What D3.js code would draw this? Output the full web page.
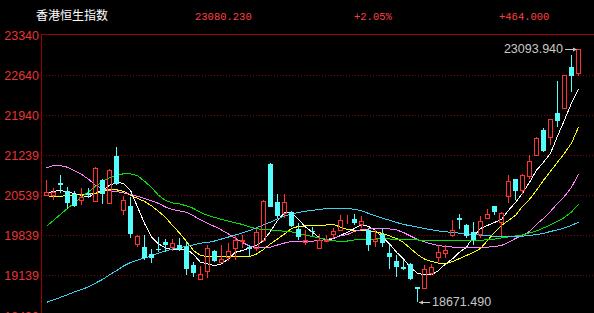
<!DOCTYPE html>
<html>
<head>
<meta charset="utf-8">
<script src="https://cdn.jsdelivr.net/npm/d3@7"></script>
<style>
  body { margin: 0; background: #000; }
  svg { display: block; }
</style>
</head>
<body>
<svg id="kline" width="594" height="313"></svg>
<script>
// daily candles, Hang Seng index
const opens = [20547,20535,20750,20605,20552,20447,20582,20430,20797,20400,
  21222,20284,20342,19689,19642,19514,19607,19717,19642,19660,
  19630,19327,19077,19222,19572,19367,19455,19619,19735,19630,
  19620,19747,21077,20417,20225,20242,19952,19717,19910,19619,
  19735,19852,19934,20080,20127,20027,19934,19735,19865,19525,
  19397,19280,19339,18930,18920,19175,19467,19525,19835,20144,
  20010,19892,19864,20144,20342,20067,20517,20827,20622,20867,
  21235,21672,21544,21975,22052,22769,22675];
const highs = [20797,20662,20897,20680,20605,20662,20657,21025,20815,21002,
  21380,20517,20505,19847,19847,19602,19805,19765,19765,19787,
  19717,19367,19310,19677,19585,19677,19700,19835,19835,19677,
  19952,20447,21095,20564,20564,20255,20050,19934,19980,19865,
  19835,19962,20185,20185,20202,20167,19952,19934,19952,19677,
  19502,19409,19350,18942,19322,19339,19677,19660,20109,20214,
  20027,20067,20167,20302,20342,20242,20897,20827,20914,21235,
  21545,21702,21859,22530,22635,22985,23093.94];
const lows = [20530,20459,20575,20302,20325,20372,20482,20421,20389,20390,
  20710,20185,19794,19630,19409,19350,19542,19542,19572,19572,
  19152,19117,19077,19094,19367,19350,19397,19409,19620,19485,
  19572,19717,20325,20144,20144,19980,19747,19660,19817,19602,
  19717,19794,19910,20027,20010,19970,19560,19642,19642,19252,
  19117,19235,19059,18671.49,18907,19152,19367,19444,19805,19952,
  19794,19660,19794,20144,20185,19817,20395,20447,20564,20827,
  21217,21292,21410,21730,22034,22337,22617];
const closes = [20592,20592,20722,20400,20342,20505,20540,21019,20564,20972,
  20739,20447,19864,19830,19444,19444,19590,19677,19707,19602,
  19252,19175,19164,19619,19385,19427,19572,19759,19760,19607,
  19892,20435,20330,20167,20417,19992,19805,19747,19887,19759,
  19747,19905,20109,20092,20050,20080,19672,19765,19700,19467,
  19292,19257,19077,18907,19252,19292,19542,19585,19934,20109,
  19817,19747,20085,20202,20242,20232,20785,20610,20897,21135,
  21527,21310,21859,21835,22635,22616,23080.23];

// moving average lines
const ma5 = [20575,20605,20622,20592,20564,20535,20505,20570,20622,20710,
  20757,20745,20622,20330,20045,19805,19689,19619,19584,19590,
  19602,19502,19367,19339,19310,19339,19427,19542,19572,19619,
  19660,19747,19905,20097,20228,20237,20115,19980,19892,19794,
  19759,19777,19835,19892,19957,20027,19992,19922,19805,19689,
  19542,19427,19275,19175,19147,19147,19222,19339,19427,19542,
  19630,19817,19957,20010,20062,20115,20272,20412,20570,20762,
  20972,21112,21270,21567,21847,22145,22390];
const ma10 = [20535,20505,20517,20535,20543,20552,20561,20570,20605,20631,
  20631,20605,20535,20482,20430,20351,20255,20150,20010,19878,
  19730,19572,19485,19467,19467,19467,19467,19467,19467,19467,
  19511,19590,19689,19773,19861,19957,19992,20001,20010,20010,
  20018,20027,19980,19940,19922,19922,19910,19896,19870,19826,
  19782,19712,19607,19502,19423,19380,19353,19336,19380,19432,
  19485,19542,19607,19747,19887,20010,20097,20185,20342,20465,
  20622,20797,20955,21112,21270,21445,21725];
const ma20 = [21019,21051,21051,21025,20963,20902,20815,20710,20648,20617,
  20599,20578,20552,20517,20482,20438,20395,20330,20290,20263,
  20237,20176,20106,20045,19992,19931,19861,19782,19712,19651,
  19619,19619,19630,19668,19703,19730,19730,19730,19735,19747,
  19765,19787,19826,19852,19905,19934,19948,19952,19952,19948,
  19931,19887,19826,19765,19721,19686,19660,19642,19633,19630,
  19630,19630,19630,19630,19642,19660,19712,19782,19835,19905,
  20027,20132,20255,20395,20517,20675,20902];
const ma30 = [19992,20097,20202,20307,20403,20508,20596,20692,20780,20841,
  20879,20911,20911,20876,20780,20675,20535,20447,20403,20386,
  20351,20307,20237,20185,20150,20115,20085,20053,20027,19983,
  19952,19940,19931,19917,19910,19896,19870,19843,19817,19794,
  19765,19742,19730,19738,19756,19765,19770,19773,19777,19773,
  19770,19765,19759,19756,19752,19747,19747,19747,19747,19747,
  19747,19747,19752,19759,19770,19791,19808,19826,19843,19878,
  19913,19966,20018,20080,20150,20246,20377];
const ma60 = [18667,18711,18755,18802,18851,18890,18939,19003,19068,19147,
  19222,19301,19362,19406,19444,19476,19528,19563,19602,19625,
  19642,19672,19700,19712,19738,19773,19808,19843,19878,19922,
  19969,20018,20067,20123,20171,20211,20237,20258,20272,20290,
  20302,20311,20312,20307,20290,20267,20220,20176,20136,20101,
  20062,20027,20004,19980,19957,19934,19913,19899,19887,19875,
  19864,19852,19840,19831,19822,19817,19817,19817,19822,19835,
  19852,19870,19905,19931,19966,20010,20067];

const tickValues = [23340, 22639.8, 21939.6, 21239.4, 20539.2, 19839, 19138.8, 18438.6];
const tickLabels = ["23340", "22640", "21940", "21239", "20539", "19839", "19139", "18439"];

const title = "香港恒生指数";
const lastPrice = "23080.230";
const pctChange = "+2.05%";
const change = "+464.000";

const UP = "#ff3232", DOWN = "#54fcfc";
const lineColors = ["#ffffff", "#ffff00", "#ff80ff", "#00e600", "#38d0f4"];

const svg = d3.select('#kline');

const x = d3.scaleBand()
  .domain(d3.range(opens.length))
  .range([42.5, 581.5]);
const y = d3.scaleLinear()
  .domain([18438.6, 23340])
  .range([315.5, 34.5]);
const cx = i => Math.round(x(i) + x.bandwidth() / 2);

svg.append('rect').attr('width', 594).attr('height', 313).style('fill', '#000');

// dotted grid
svg.selectAll('line.grid')
  .data(tickValues.slice(1))
  .enter()
  .append('line')
  .attr('class', 'grid')
  .attr('x1', 43).attr('x2', 594)
  .attr('y1', d => Math.round(y(d)) + 0.5)
  .attr('y2', d => Math.round(y(d)) + 0.5)
  .style('stroke', '#8a0000')
  .style('stroke-dasharray', '1,2');

// frame: top border + left axis
svg.append('line')
  .attr('x1', 41).attr('x2', 594)
  .attr('y1', Math.floor(y(23340)) + 0.5).attr('y2', Math.floor(y(23340)) + 0.5)
  .style('stroke', '#a00000');
svg.append('line')
  .attr('x1', 41.5).attr('x2', 41.5)
  .attr('y1', 34).attr('y2', 313)
  .style('stroke', '#a00000');

svg.selectAll('text.tick')
  .data(tickValues)
  .enter()
  .append('text')
  .attr('class', 'tick')
  .attr('x', 39)
  .attr('y', d => Math.round(y(d)) + 4.5)
  .attr('text-anchor', 'end')
  .style('font-family', 'Liberation Sans, Arial, sans-serif')
  .style('font-size', '12.5px')
  .style('fill', '#e83434')
  .text((d, i) => tickLabels[i]);

// moving averages (pixel-style lines like the trading terminal)
const mas = [ma5, ma10, ma20, ma30, ma60];
const line = d3.line()
  .x((d, i) => cx(i) + 0.5)
  .y(d => y(d));
svg.selectAll('path.ma')
  .data(mas)
  .enter()
  .append('path')
  .attr('class', 'ma')
  .attr('d', d => line(d))
  .style('fill', 'none')
  .style('stroke', (d, i) => lineColors[i])
  .style('stroke-width', 1)
  .style('shape-rendering', 'crispEdges');

// candles
const candles = d3.range(opens.length).map(i => ({
  i: i, o: opens[i], h: highs[i], l: lows[i], c: closes[i], up: closes[i] >= opens[i]
}));

const g = svg.append('g').style('shape-rendering', 'crispEdges');
candles.forEach(d => {
  const px = cx(d.i);
  const top = Math.round(y(Math.max(d.o, d.c)));
  const bot = Math.round(y(Math.min(d.o, d.c)));
  const hi = Math.round(y(d.h));
  const lo = Math.round(y(d.l));
  if (d.up) {
    // hollow red body, wick outside it
    if (hi < top) g.append('line').attr('x1', px + 0.5).attr('x2', px + 0.5)
      .attr('y1', hi).attr('y2', top).style('stroke', UP);
    if (lo > bot) g.append('line').attr('x1', px + 0.5).attr('x2', px + 0.5)
      .attr('y1', bot).attr('y2', lo).style('stroke', UP);
    g.append('rect')
      .attr('x', px - 2 + 0.5).attr('y', top + 0.5)
      .attr('width', 4).attr('height', Math.max(0, bot - top))
      .style('fill', 'none').style('stroke', UP);
  } else {
    g.append('line').attr('x1', px + 0.5).attr('x2', px + 0.5)
      .attr('y1', hi).attr('y2', lo).style('stroke', DOWN);
    g.append('rect')
      .attr('x', px - 2).attr('y', top)
      .attr('width', 5).attr('height', Math.max(1, bot - top))
      .style('fill', DOWN);
  }
});

// highest / lowest markers
const hiIdx = d3.maxIndex(highs), loIdx = d3.minIndex(lows);
const markColor = '#c8c8c8';
const hy = Math.round(y(highs[hiIdx])) + 0.5;
svg.append('line')
  .attr('x1', cx(hiIdx) - 13).attr('x2', cx(hiIdx) - 2)
  .attr('y1', hy).attr('y2', hy)
  .style('stroke', markColor);
svg.append('path')
  .attr('d', `M${cx(hiIdx) - 1},${hy} l-4,-2 l0,4 z`)
  .style('fill', markColor);
svg.append('text')
  .attr('x', cx(hiIdx) - 15).attr('y', hy + 3.5)
  .attr('text-anchor', 'end')
  .style('font-family', 'Liberation Sans, Arial, sans-serif')
  .style('font-size', '12.5px')
  .style('fill', markColor)
  .text(highs[hiIdx].toFixed(3));

const ly = Math.round(y(lows[loIdx])) + 0.5;
svg.append('line')
  .attr('x1', cx(loIdx) + 2).attr('x2', cx(loIdx) + 13)
  .attr('y1', ly).attr('y2', ly)
  .style('stroke', markColor);
svg.append('path')
  .attr('d', `M${cx(loIdx) + 2},${ly} l4,-2 l0,4 z`)
  .style('fill', markColor);
svg.append('text')
  .attr('x', cx(loIdx) + 15).attr('y', ly + 3.5)
  .style('font-family', 'Liberation Sans, Arial, sans-serif')
  .style('font-size', '12.5px')
  .style('fill', markColor)
  .text(lows[loIdx].toFixed(3));

// header
svg.append('text')
  .attr('x', 36).attr('y', 20)
  .style('font-family', 'Noto Sans CJK SC, sans-serif')
  .style('font-size', '12px')
  .style('fill', '#ffffff')
  .text(title);
const header = [[lastPrice, 195], [pctChange, 354], [change, 499]];
svg.selectAll('text.hdr')
  .data(header)
  .enter()
  .append('text')
  .attr('class', 'hdr')
  .attr('x', d => d[1]).attr('y', 19.5)
  .style('font-family', 'Liberation Mono, monospace')
  .style('font-size', '10.5px')
  .style('fill', '#ff4040')
  .text(d => d[0]);
</script>
</body>
</html>
